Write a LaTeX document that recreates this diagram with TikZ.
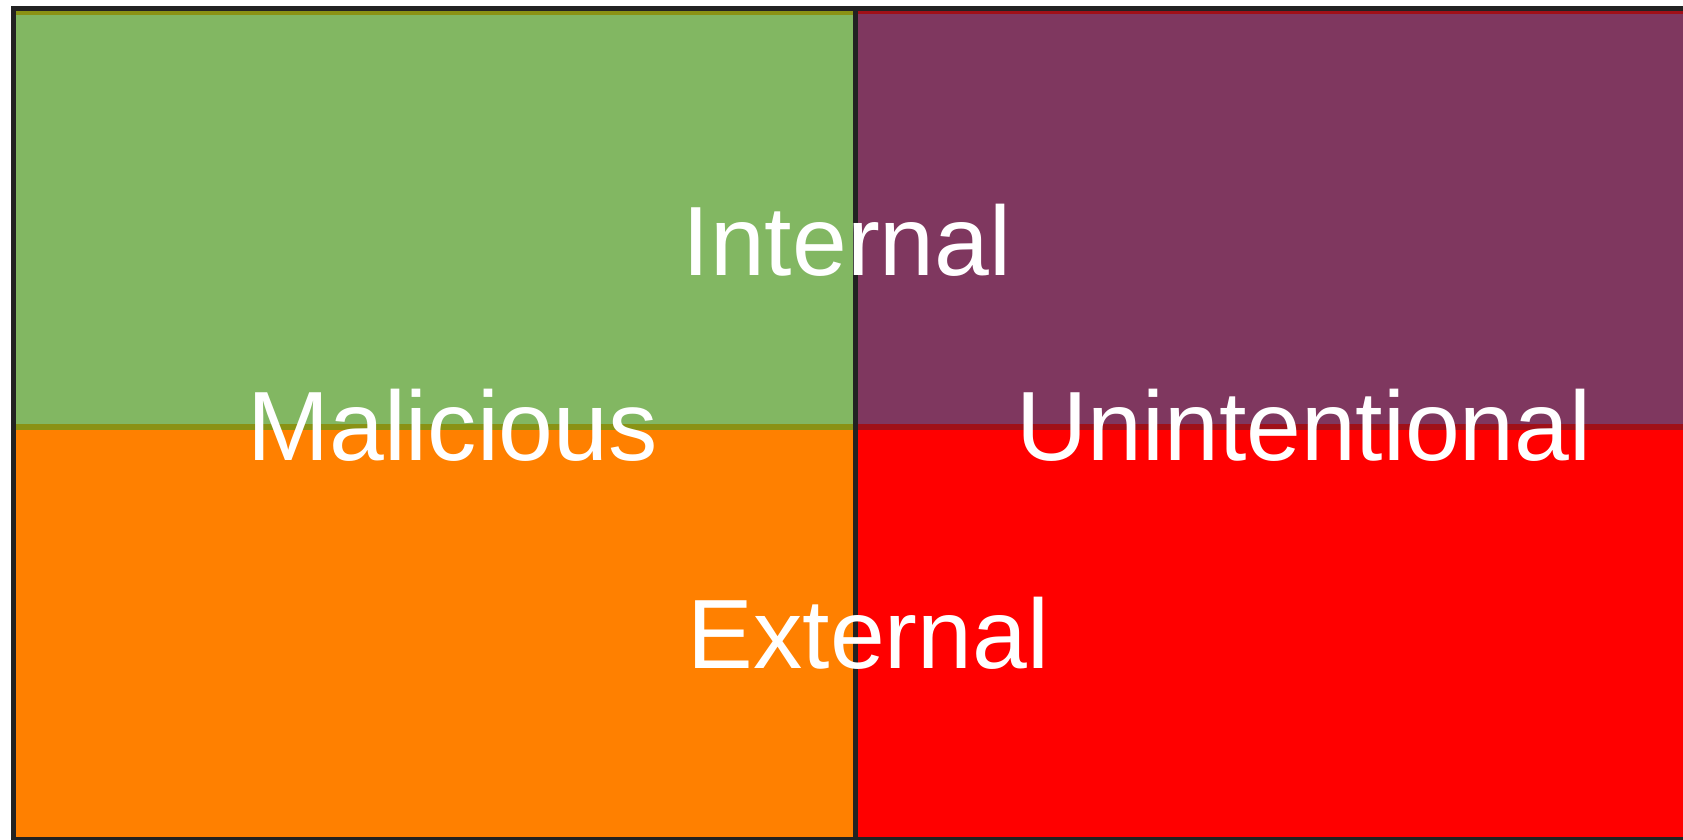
\documentclass[tikz,border=0pt]{standalone}
\usepackage{fontspec}
\setmainfont{Liberation Sans}
\definecolor{qgreen}{RGB}{130,183,98}
\definecolor{qpurple}{RGB}{127,55,95}
\definecolor{qorange}{RGB}{255,128,0}
\definecolor{qred}{RGB}{255,0,0}
\definecolor{qolive}{RGB}{138,146,20}
\definecolor{qdarkred}{RGB}{160,16,24}
\definecolor{qframe}{RGB}{34,34,34}
\begin{document}
\begin{tikzpicture}[x=1pt,y=-1pt,
    word/.style={text=white,anchor=base,inner sep=0pt,font=\fontsize{98.5}{100}\selectfont},
    frameline/.style={qframe,line width=5pt}]
    \useasboundingbox (0,0) rectangle (1683,840);
    \clip (0,0) rectangle (1683,840);
    \fill[white] (0,0) rectangle (1683,840);
    % the four quadrants
    \foreach \xa/\ya/\xb/\yb/\col in {13.5/8/855.5/427/qgreen, 855.5/8/1690/427/qpurple,
        13.5/427/855.5/842/qorange, 855.5/427/1690/842/qred}
        \fill[\col] (\xa,\ya) rectangle (\xb,\yb);
    % darker edges of the top half
    \draw[qolive, line width=4pt] (13.5,13) -- (855.5,13);
    \draw[qdarkred, line width=4pt] (855.5,12) -- (1690,12);
    \draw[qolive, line width=6pt] (13.5,427) -- (855.5,427);
    \draw[qdarkred, line width=6pt] (855.5,427) -- (1690,427);
    % frame and middle line
    \draw[frameline] (13.5,8.5) rectangle (1700,839.5);
    \draw[frameline] (855.5,8.5) -- (855.5,839.5);
    % labels
    \node[word] (internal) at (847,275) {Internal};
    \node[word] (malicious) at (452.5,460) {Malicious};
    \node[word] (unintentional) at (1304,460) {Unintentional};
    \node[word] (external) at (868.5,668) {External};
\end{tikzpicture}
\end{document}
